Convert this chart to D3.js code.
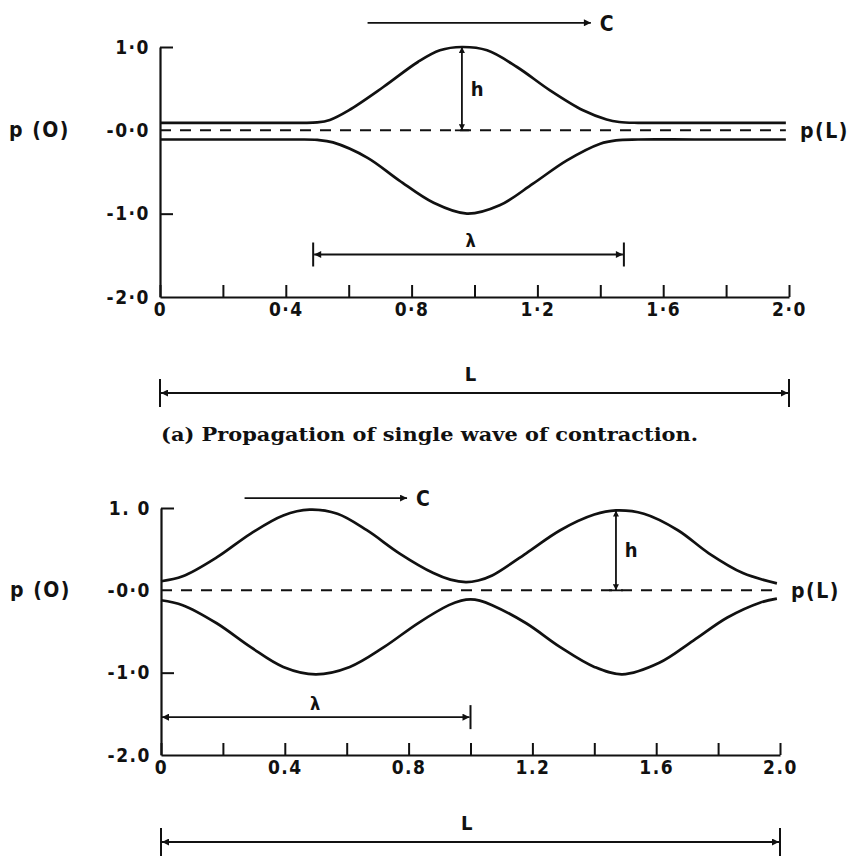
<!DOCTYPE html>
<html><head><meta charset="utf-8">
<script src="https://cdn.jsdelivr.net/npm/d3@7"></script>
<style>body{margin:0;background:#fff}svg{display:block}</style>
</head><body><svg id="c" width="860" height="857"></svg>
<script>
// ---------- data ----------
const xTickValues = [0, 0.2, 0.4, 0.6, 0.8, 1.0, 1.2, 1.4, 1.6, 1.8, 2.0];
const xTickLabelsA = ["0", "", "0·4", "", "0·8", "", "1·2", "", "1·6", "", "2·0"];
const xTickLabelsB = ["0", "", "0.4", "", "0.8", "", "1.2", "", "1.6", "", "2.0"];
const yTickValues = [-2, -1, 0, 1];
const yTickLabelsA = ["-2·0", "-1·0", "-0·0", "1·0"];
const yTickLabelsB = ["-2.0", "-1·0", "-0·0", "1. 0"];

// (a) single wave
const aUpperX = [0, 0.30, 0.45, 0.50, 0.54, 0.60, 0.71, 0.82, 0.89, 0.96, 1.04, 1.135, 1.24, 1.345, 1.42, 1.46, 1.52, 1.70, 1.99];
const aUpperY = [0.09, 0.09, 0.09, 0.095, 0.125, 0.24, 0.52, 0.82, 0.96, 1.0, 0.96, 0.76, 0.48, 0.24, 0.13, 0.10, 0.09, 0.09, 0.09];
const aLowerX = [0, 0.30, 0.44, 0.50, 0.55, 0.66, 0.76, 0.87, 0.976, 1.08, 1.186, 1.294, 1.40, 1.45, 1.52, 1.70, 1.99];
const aLowerY = [-0.11, -0.11, -0.11, -0.115, -0.145, -0.33, -0.60, -0.87, -1.0, -0.90, -0.64, -0.36, -0.16, -0.12, -0.11, -0.11, -0.11];

// (b) periodic wave
const bUpperX = [0, 0.07, 0.18, 0.29, 0.395, 0.48, 0.57, 0.665, 0.77, 0.88, 0.935, 0.985, 1.025, 1.07, 1.18, 1.29, 1.40, 1.47, 1.56, 1.67, 1.77, 1.88, 1.99];
const bUpperY = [0.11, 0.17, 0.40, 0.69, 0.91, 0.98, 0.93, 0.73, 0.45, 0.21, 0.13, 0.10, 0.12, 0.18, 0.45, 0.73, 0.92, 0.97, 0.93, 0.73, 0.45, 0.21, 0.085];
const bLowerX = [0, 0.07, 0.18, 0.29, 0.395, 0.50, 0.61, 0.72, 0.83, 0.93, 0.97, 1.0, 1.03, 1.07, 1.18, 1.29, 1.40, 1.49, 1.61, 1.72, 1.83, 1.935, 1.99];
const bLowerY = [-0.12, -0.18, -0.40, -0.69, -0.93, -1.02, -0.93, -0.69, -0.40, -0.18, -0.125, -0.11, -0.125, -0.18, -0.40, -0.69, -0.93, -1.02, -0.88, -0.61, -0.33, -0.15, -0.10];

const caption = "(a) Propagation of single wave of contraction.";

// ---------- drawing ----------
const svg = d3.select("#c");
const defs = svg.append("defs");
defs.append("marker").attr("id", "ah")
  .attr("viewBox", "0 0 10 10").attr("refX", 10).attr("refY", 5)
  .attr("markerWidth", 11).attr("markerHeight", 7)
  .attr("markerUnits", "userSpaceOnUse")
  .attr("orient", "auto-start-reverse")
  .append("path").attr("d", "M0,0L10,5L0,10Z").attr("fill", "#111");
defs.append("marker").attr("id", "ahs")
  .attr("viewBox", "0 0 10 10").attr("refX", 10).attr("refY", 5)
  .attr("markerWidth", 8).attr("markerHeight", 6)
  .attr("markerUnits", "userSpaceOnUse")
  .attr("orient", "auto-start-reverse")
  .append("path").attr("d", "M0,0L10,5L0,10Z").attr("fill", "#111");

const INK = "#111";
const labelFont = "'DejaVu Sans Condensed', 'DejaVu Sans', sans-serif";

function panel(cfg) {
  const g = svg.append("g");
  const x = d3.scaleLinear().domain([0, 2]).range(cfg.xRange);
  const y = d3.scaleLinear().domain([-2, 1]).range(cfg.yRange);

  // axes
  const xa = g.append("g").attr("transform", `translate(0,${y(-2)})`)
    .call(d3.axisBottom(x).tickValues(xTickValues).tickSizeInner(-12).tickSizeOuter(0).tickPadding(6)
      .tickFormat((d, i) => cfg.xLabels[i]));
  const ya = g.append("g").attr("transform", `translate(${x(0)},0)`)
    .call(d3.axisLeft(y).tickValues(yTickValues).tickSizeInner(-13).tickSizeOuter(0).tickPadding(10)
      .tickFormat((d, i) => cfg.yLabels[i]));
  [xa, ya].forEach(a => {
    a.selectAll("path.domain").attr("stroke", INK).attr("stroke-width", 2.2);
    a.selectAll(".tick line").attr("stroke", INK).attr("stroke-width", 2);
    a.selectAll(".tick text").attr("fill", INK).attr("font-family", labelFont)
      .attr("font-size", 19).attr("font-weight", "bold").attr("letter-spacing", 1.5);
  });
  ya.selectAll(".tick").filter(d => d === 0 || d === -2).select("line").remove();

  // centreline
  g.append("line").attr("x1", x(0)).attr("x2", x(1.99)).attr("y1", y(0)).attr("y2", y(0))
    .attr("stroke", INK).attr("stroke-width", 2).attr("stroke-dasharray", "11,9");

  // walls
  const line = d3.line().x(d => x(d[0])).y(d => y(d[1])).curve(d3.curveCatmullRom.alpha(0.5));
  [[cfg.upX, cfg.upY], [cfg.loX, cfg.loY]].forEach(([xs, ys]) => {
    g.append("path").datum(xs.map((v, i) => [v, ys[i]])).attr("d", line)
      .attr("fill", "none").attr("stroke", INK).attr("stroke-width", 2.7);
  });

  const txt = (px, py, s, anchor, size) => g.append("text").attr("x", px).attr("y", py)
    .attr("text-anchor", anchor || "middle").attr("dominant-baseline", "central")
    .attr("font-family", labelFont).attr("font-size", size || 18).attr("font-weight", "bold")
    .attr("letter-spacing", 1.5).attr("fill", INK).text(s);

  // p(0), p(L)
  txt(x(0) - 90, y(0), "p (O)", "end", 21);
  txt(cfg.xRange[1] + 11, y(0) + 1, "p(L)", "start", 21);

  // C arrow
  g.append("line").attr("x1", x(cfg.c[0])).attr("x2", x(cfg.c[1])).attr("y1", y(cfg.c[2])).attr("y2", y(cfg.c[2]))
    .attr("stroke", INK).attr("stroke-width", 1.8).attr("marker-end", "url(#ah)");
  txt(x(cfg.c[1]) + 9, y(cfg.c[2]) + 1, "C", "start", 21);

  // h arrow
  g.append("line").attr("x1", x(cfg.h[0])).attr("x2", x(cfg.h[0])).attr("y1", y(0)).attr("y2", y(cfg.h[1]))
    .attr("stroke", INK).attr("stroke-width", 1.8)
    .attr("marker-start", "url(#ahs)").attr("marker-end", "url(#ahs)");
  g.append("line").attr("x1", x(cfg.h[0]) - 7).attr("x2", x(cfg.h[0]) + 7).attr("y1", y(0)).attr("y2", y(0))
    .attr("stroke", INK).attr("stroke-width", 1.8);
  txt(x(cfg.h[0]) + 16, (y(0) + y(cfg.h[1])) / 2, "h", "middle", 20);

  // lambda arrow
  const ly = y(cfg.lam[2]);
  g.append("line").attr("x1", x(cfg.lam[0]) + 1).attr("x2", x(cfg.lam[1]) - 1).attr("y1", ly).attr("y2", ly)
    .attr("stroke", INK).attr("stroke-width", 1.8)
    .attr("marker-start", "url(#ah)").attr("marker-end", "url(#ah)");
  cfg.lamBars.forEach(v => g.append("line").attr("x1", x(v)).attr("x2", x(v)).attr("y1", ly - 12).attr("y2", ly + 12)
    .attr("stroke", INK).attr("stroke-width", 2));
  txt(x(cfg.lam[3]), ly - 14, "λ", "middle", 18);

  // L arrow
  const Ly = cfg.Ly;
  g.append("line").attr("x1", x(0) + 1).attr("x2", x(2) - 1).attr("y1", Ly).attr("y2", Ly)
    .attr("stroke", INK).attr("stroke-width", 2)
    .attr("marker-start", "url(#ah)").attr("marker-end", "url(#ah)");
  [0, 2].forEach(v => g.append("line").attr("x1", x(v)).attr("x2", x(v)).attr("y1", Ly - 14).attr("y2", Ly + 14)
    .attr("stroke", INK).attr("stroke-width", 2));
  txt(x(0.99), Ly - 19, "L", "middle", 20);
}

panel({
  xRange: [160, 789], yRange: [297, 47],
  xLabels: xTickLabelsA, yLabels: yTickLabelsA,
  upX: aUpperX, upY: aUpperY, loX: aLowerX, loY: aLowerY,
  c: [0.66, 1.37, 1.29], h: [0.96, 1.0], lam: [0.487, 1.475, -1.49, 0.99], lamBars: [0.487, 1.475],
  Ly: 393
});

panel({
  xRange: [161, 780], yRange: [755, 508],
  xLabels: xTickLabelsB, yLabels: yTickLabelsB,
  upX: bUpperX, upY: bUpperY, loX: bLowerX, loY: bLowerY,
  c: [0.27, 0.795, 1.12], h: [1.47, 0.97], lam: [0, 1.0, -1.54, 0.5], lamBars: [1.0],
  Ly: 842
});

svg.append("text").attr("x", 161).attr("y", 441)
  .attr("font-family", "'DejaVu Serif', serif").attr("font-size", 19).attr("font-weight", "bold")
  .attr("textLength", 537).attr("lengthAdjust", "spacingAndGlyphs")
  .attr("fill", INK).text(caption);
</script></body></html>
